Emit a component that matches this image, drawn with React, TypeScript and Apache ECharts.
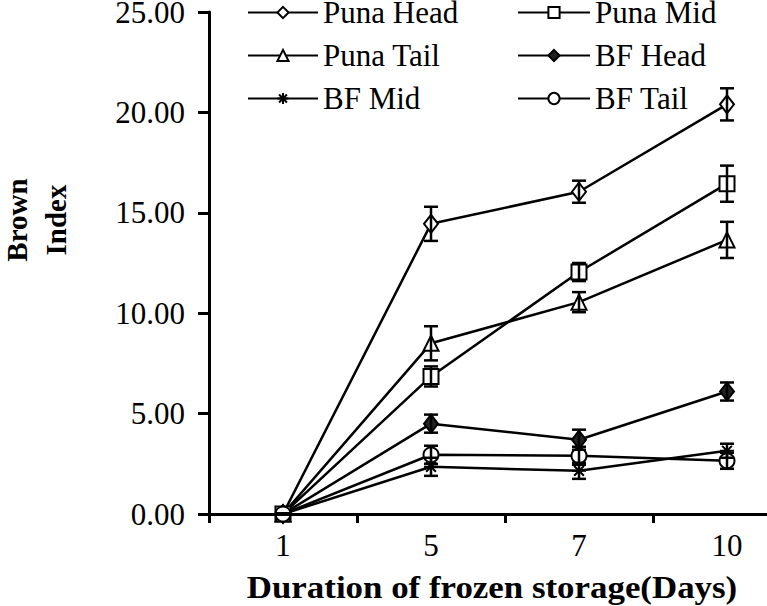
import React, { useEffect, useRef } from "react";
import * as echarts from "echarts";

const categories = ["1", "5", "7", "10"];
const yTicks = [0, 5, 10, 15, 20, 25];

const punaHead = [0, 14.45, 16.05, 20.4];
const punaHeadErr = [0, 0.85, 0.55, 0.8];
const punaMid = [0, 6.85, 12.05, 16.45];
const punaMidErr = [0, 0.5, 0.45, 0.9];
const punaTail = [0, 8.5, 10.55, 13.65];
const punaTailErr = [0, 0.85, 0.5, 0.9];
const bfHead = [0, 4.5, 3.7, 6.1];
const bfHeadErr = [0, 0.45, 0.5, 0.45];
const bfMid = [0, 2.35, 2.15, 3.15];
const bfMidErr = [0, 0.45, 0.4, 0.35];
const bfTail = [0, 2.95, 2.9, 2.65];
const bfTailErr = [0, 0.45, 0.45, 0.4];

const seriesNames = ["Puna Head", "Puna Mid", "Puna Tail", "BF Head", "BF Mid", "BF Tail"];
const seriesValues = [punaHead, punaMid, punaTail, bfHead, bfMid, bfTail];
const seriesErrors = [punaHeadErr, punaMidErr, punaTailErr, bfHeadErr, bfMidErr, bfTailErr];

const FONT = '"Liberation Serif", "Times New Roman", serif';
const ASTERISK = "path://M0,5L10,5M5,0L5,10M1.5,1.5L8.5,8.5M8.5,1.5L1.5,8.5";

const symbolDefs = [
  { symbol: "diamond", fill: "#fff", size: [14, 18] },
  { symbol: "rect", fill: "#fff", size: 15 },
  { symbol: "triangle", fill: "#fff", size: 15 },
  { symbol: "diamond", fill: "#222", size: [14, 18] },
  { symbol: ASTERISK, fill: "#000", size: 14 },
  { symbol: "circle", fill: "#fff", size: 15 },
];

export default function App() {
  const ref = useRef<HTMLDivElement>(null);

  useEffect(() => {
    document.body.style.margin = "0";
    if (!ref.current) return;
    const chart = echarts.init(ref.current, null, { renderer: "svg" });

    const lineSeries = seriesNames.map((name, i) => ({
      name,
      type: "line",
      data: seriesValues[i],
      symbol: symbolDefs[i].symbol,
      symbolSize: symbolDefs[i].size,
      showAllSymbol: true,
      z: 3,
      lineStyle: { color: "#000", width: 2.5 },
      itemStyle: { color: symbolDefs[i].fill, borderColor: "#000", borderWidth: 2 },
    }));

    const errSeries = seriesNames.map((name, i) => ({
      name: name + " err",
      type: "custom",
      z: 4,
      silent: true,
      data: seriesValues[i].map((v, j) => [j, v - seriesErrors[i][j], v + seriesErrors[i][j]]),
      renderItem: (params: any, api: any) => {
        const x = api.value(0);
        const lo = api.coord([x, api.value(1)]);
        const hi = api.coord([x, api.value(2)]);
        const hw = 7;
        const style = { stroke: "#000", lineWidth: 2.5 };
        return {
          type: "group",
          children: [
            { type: "line", shape: { x1: lo[0], y1: lo[1], x2: hi[0], y2: hi[1] }, style },
            { type: "line", shape: { x1: lo[0] - hw, y1: lo[1], x2: lo[0] + hw, y2: lo[1] }, style },
            { type: "line", shape: { x1: hi[0] - hw, y1: hi[1], x2: hi[0] + hw, y2: hi[1] }, style },
          ],
        };
      },
    }));

    const legendText = { fontFamily: FONT, fontSize: 31, color: "#000" };

    chart.setOption({
      animation: false,
      backgroundColor: "#fff",
      grid: { left: 209, width: 592, top: 12, bottom: 92, outerBoundsMode: "none", containLabel: false },
      legend: [
        {
          data: [seriesNames[0], seriesNames[2], seriesNames[4]],
          orient: "vertical",
          left: 247,
          top: -3,
          padding: 0,
          itemWidth: 70,
          itemHeight: 14,
          itemGap: 12,
          textStyle: legendText,
        },
        {
          data: [seriesNames[1], seriesNames[3], seriesNames[5]],
          orient: "vertical",
          left: 517,
          top: -3,
          padding: 0,
          itemWidth: 72,
          itemHeight: 14,
          itemGap: 12,
          textStyle: legendText,
        },
      ],
      xAxis: {
        type: "category",
        data: categories,
        boundaryGap: true,
        axisLine: { lineStyle: { color: "#000", width: 3 } },
        axisTick: { show: true, length: 9, lineStyle: { color: "#000", width: 3 } },
        axisLabel: { fontFamily: FONT, fontSize: 31, color: "#000", margin: 16 },
      },
      yAxis: {
        type: "value",
        min: yTicks[0],
        max: yTicks[yTicks.length - 1],
        interval: 5,
        splitLine: { show: false },
        axisLine: { show: true, lineStyle: { color: "#000", width: 3 } },
        axisTick: { show: true, length: 11, lineStyle: { color: "#000", width: 3 } },
        axisLabel: {
          fontFamily: FONT,
          fontSize: 31,
          color: "#000",
          margin: 24,
          formatter: (v: number) => v.toFixed(2),
        },
      },
      graphic: [
        {
          type: "text",
          x: 36,
          y: 220,
          rotation: Math.PI / 2,
          style: {
            text: "Brown\nIndex",
            font: `bold 29px ${FONT}`,
            lineHeight: 39,
            align: "center",
            verticalAlign: "middle",
            fill: "#000",
          },
        },
        {
          type: "text",
          x: 492,
          y: 587,
          scaleX: 1.09,
          style: {
            text: "Duration of frozen storage(Days)",
            font: `bold 32px ${FONT}`,
            align: "center",
            verticalAlign: "middle",
            fill: "#000",
          },
        },
      ],
      series: [...lineSeries, ...errSeries],
    });

    return () => chart.dispose();
  }, []);

  return <div ref={ref} style={{ position: "absolute", left: 0, top: 0, width: 767, height: 606 }} />;
}
